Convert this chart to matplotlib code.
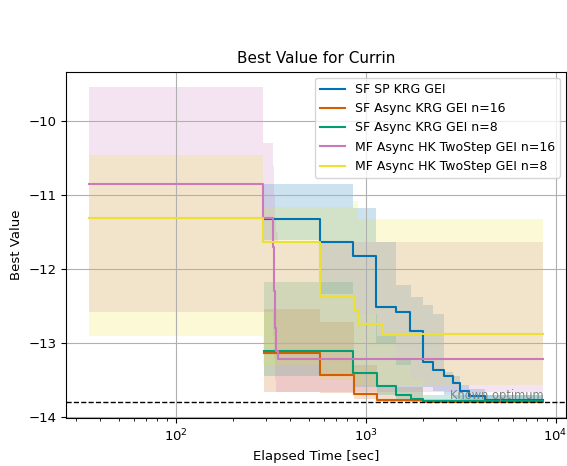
import matplotlib
matplotlib.use("Agg")
import matplotlib.pyplot as plt
import numpy as np

# ---- data: elapsed time [s] (step starts) and best value per method ----
# SF SP KRG GEI
sp_t = [290, 576, 853, 1139, 1439, 1703, 2000, 2275, 2588, 2884, 3150, 3482, 4256, 8610]
sp_mean = [-11.32, -11.63, -11.82, -12.51, -12.58, -12.83, -13.26, -13.36, -13.44, -13.54, -13.65, -13.72, -13.77, -13.77]
sp_band_t = [290, 576, 853, 1139, 1439, 1729, 2000, 2275, 2588, 2884, 3150, 3482, 4256, 8610]
sp_lo = [-11.60, -12.33, -12.60, -13.00, -13.30, -13.50, -13.60, -13.65, -13.70, -13.74, -13.77, -13.79, -13.79, -13.79]
sp_hi = [-10.84, -10.84, -11.17, -11.63, -12.22, -12.37, -12.49, -12.60, -13.39, -13.45, -13.57, -13.62, -13.70, -13.70]

# SF Async KRG GEI n=16
a16_t = [290, 576, 863, 1153, 2000, 8610]
a16_mean = [-13.14, -13.43, -13.69, -13.77, -13.79, -13.79]
a16_lo = [-13.66, -13.68, -13.76, -13.79, -13.80, -13.80]
a16_hi = [-12.54, -12.72, -13.30, -13.60, -13.75, -13.78]

# SF Async KRG GEI n=8
a8_t = [290, 853, 1153, 1439, 1729, 2000, 8610]
a8_mean = [-13.11, -13.40, -13.58, -13.70, -13.75, -13.78, -13.78]
a8_lo = [-13.45, -13.60, -13.70, -13.77, -13.79, -13.80, -13.80]
a8_hi = [-12.17, -12.60, -12.90, -13.20, -13.50, -13.70, -13.75]

# MF Async HK TwoStep GEI n=16
mf16_t = [34.8, 287, 324, 328, 332, 338, 344, 8610]
mf16_mean = [-10.84, -11.30, -11.70, -12.30, -12.80, -13.10, -13.22, -13.22]
mf16_lo = [-12.58, -12.58, -12.90, -13.20, -13.50, -13.66, -13.66, -13.66]
mf16_hi = [-9.54, -10.29, -10.60, -11.00, -11.30, -11.50, -11.63, -11.63]

# MF Async HK TwoStep GEI n=8
mf8_t = [34.8, 287, 576, 863, 916, 1236, 8610]
mf8_mean = [-11.31, -11.63, -12.38, -12.55, -12.74, -12.88, -12.88]
mf8_band_t = [34.8, 287, 576, 853, 916, 1139, 8610]
mf8_lo = [-12.91, -13.30, -13.50, -13.55, -13.57, -13.57, -13.57]
mf8_hi = [-10.45, -11.16, -11.16, -11.07, -11.32, -11.32, -11.32]

known_optimum = -13.80

labels = ["SF SP KRG GEI", "SF Async KRG GEI n=16", "SF Async KRG GEI n=8",
          "MF Async HK TwoStep GEI n=16", "MF Async HK TwoStep GEI n=8"]
colors = ["#0173b2", "#d55e00", "#029e73", "#cc78bc", "#ece133"]

series = [
    (sp_t, sp_mean, sp_band_t, sp_lo, sp_hi),
    (a16_t, a16_mean, a16_t, a16_lo, a16_hi),
    (a8_t, a8_mean, a8_t, a8_lo, a8_hi),
    (mf16_t, mf16_mean, mf16_t, mf16_lo, mf16_hi),
    (mf8_t, mf8_mean, mf8_band_t, mf8_lo, mf8_hi),
]

fig = plt.figure(figsize=(5.67, 4.66), dpi=100)
ax = fig.add_axes([66 / 567, 1 - 418 / 466, 500 / 567, (418 - 71.7) / 466])

for (t, m, bt, lo, hi), lab, c in zip(series, labels, colors):
    ax.fill_between(bt, lo, hi, step="post", color=c, alpha=0.2, linewidth=0)
    ax.step(t, m, where="post", color=c, lw=1.5, label=lab)

ax.axhline(known_optimum, color="black", ls="--", lw=1)
ax.text(8610, known_optimum, "Known optimum", color="gray", fontsize=8.3,
        ha="right", va="bottom")

ax.set_xscale("log")
ax.grid(True)
ax.set_title("Best Value for Currin", fontsize=11)
ax.set_xlabel("Elapsed Time [sec]", fontsize=9.5)
ax.set_ylabel("Best Value", fontsize=9.5)
ax.tick_params(labelsize=9.5)
ax.legend(loc="upper right", fontsize=9)

fig.savefig("out.png", dpi=100)
